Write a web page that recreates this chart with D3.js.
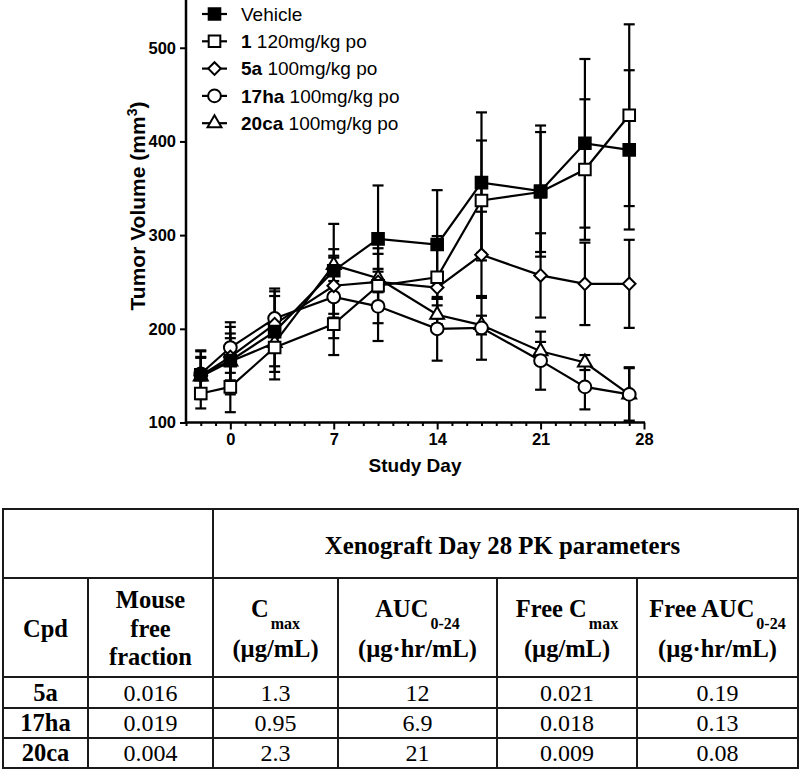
<!DOCTYPE html>
<html>
<head>
<meta charset="utf-8">
<script src="https://cdn.jsdelivr.net/npm/d3@7"></script>
<style>
  html, body { margin: 0; padding: 0; background: #fff; }
  svg { display: block; }
</style>
</head>
<body>
<svg id="chart" width="800" height="770"></svg>
<script>
// ---------------- DATA ----------------
const studyDays = [-2, 0, 3, 7, 10, 14, 17, 21, 24, 27];

const vehicleMean = [151, 166, 197, 262, 296, 290, 356, 347, 398, 391];
const vehicleErr  = [26, 36, 43, 50, 57, 58, 75, 70, 90, 85];

const cpd1Mean = [131, 138, 180, 205, 246, 255, 337, 346, 370, 428];
const cpd1Err  = [16, 27, 34, 33, 40, 44, 64, 64, 75, 97];

const cpd5aMean = [150, 170, 205, 246, 250, 244, 279, 257, 248, 248];
const cpd5aErr  = [20, 25, 30, 30, 30, 12, 46, 45, 44, 47];

const cpd17haMean = [152, 180, 211, 234, 224, 200, 201, 166, 138, 130];
const cpd17haErr  = [24, 27, 32, 44, 37, 34, 34, 31, 24, 28];

const cpd20caMean = [149, 165, 185, 268, 254, 215, 204, 176, 164, 130];
const cpd20caErr  = [20, 25, 25, 17, 10, 10, 10, 10, 8, 29];

const legendBold = ["", "1", "5a", "17ha", "20ca"];
const legendRest = ["Vehicle", " 120mg/kg po", " 100mg/kg po", " 100mg/kg po", " 100mg/kg po"];

const xTickValues = [0, 7, 14, 21, 28];
const yTickValues = [100, 200, 300, 400, 500];

// table data
const tableCpd = ["5a", "17ha", "20ca"];
const tableFreeFraction = ["0.016", "0.019", "0.004"];
const tableCmax = ["1.3", "0.95", "2.3"];
const tableAuc = ["12", "6.9", "21"];
const tableFreeCmax = ["0.021", "0.018", "0.009"];
const tableFreeAuc = ["0.19", "0.13", "0.08"];

// ---------------- CHART ----------------
const svg = d3.select("#chart");
const FONT = "'Liberation Sans', Arial, Helvetica, sans-serif";
const SERIF = "'Liberation Serif', 'Times New Roman', serif";

const x = d3.scaleLinear().domain([-3, 28]).range([186, 644]);
const y = d3.scaleLinear().domain([100, 550]).range([422.5, 0.9]);

const seriesList = [
  { mean: vehicleMean, err: vehicleErr, shape: "square", filled: true },
  { mean: cpd1Mean, err: cpd1Err, shape: "square", filled: false },
  { mean: cpd5aMean, err: cpd5aErr, shape: "diamond", filled: false },
  { mean: cpd17haMean, err: cpd17haErr, shape: "circle", filled: false },
  { mean: cpd20caMean, err: cpd20caErr, shape: "triangle", filled: false }
];

function symbolPath(shape) {
  if (shape === "square") return d3.symbol().type(d3.symbolSquare).size(135)();
  if (shape === "diamond") return d3.symbol().type(d3.symbolSquare).size(80)();
  if (shape === "circle") return d3.symbol().type(d3.symbolCircle).size(128)();
  return d3.symbol().type(d3.symbolTriangle).size(84)();
}

// axes
const xAxisG = svg.append("g").attr("transform", `translate(0,${y(100)})`);
xAxisG.call(d3.axisBottom(x).tickValues(xTickValues).tickSize(7).tickSizeOuter(0).tickPadding(4));
const minorG = svg.append("g").attr("transform", `translate(0,${y(100)})`);
minorG.call(d3.axisBottom(x).tickValues(d3.range(-3, 29).filter(d => d % 7 !== 0)).tickSize(3.5).tickSizeOuter(0).tickFormat(""));
minorG.select(".domain").remove();

const yAxisG = svg.append("g").attr("transform", `translate(${x(-3)},0)`);
yAxisG.call(d3.axisLeft(y).tickValues(yTickValues).tickSize(6).tickSizeOuter(0).tickPadding(4));

[xAxisG, yAxisG, minorG].forEach(g => {
  g.selectAll("path.domain").attr("stroke", "#000").attr("stroke-width", 2.5);
  g.selectAll(".tick line").attr("stroke", "#000").attr("stroke-width", 2);
  g.selectAll(".tick text").attr("fill", "#000").style("font-family", FONT)
    .style("font-weight", "bold").style("font-size", "16.5px");
});
xAxisG.select("path.domain").attr("d", `M${x(-3) - 1.2},0H${x(28) + 1}`);
yAxisG.select("path.domain").attr("d", `M0,${y(100) + 1.2}V0`);

// axis titles
svg.append("text")
  .attr("x", x(12.5)).attr("y", 472)
  .attr("text-anchor", "middle")
  .style("font-family", FONT).style("font-weight", "bold").style("font-size", "19px")
  .text("Study Day");

const yTitle = svg.append("text")
  .attr("transform", `translate(145,206) rotate(-90)`)
  .attr("text-anchor", "middle")
  .style("font-family", FONT).style("font-weight", "bold").style("font-size", "21px");
yTitle.append("tspan").text("Tumor Volume (mm");
yTitle.append("tspan").attr("dy", -8).style("font-size", "14px").text("3");
yTitle.append("tspan").attr("dy", 8).text(")");

// error bars + lines
const plotG = svg.append("g");
const capHalf = 5.5;
seriesList.forEach(s => {
  const g = plotG.append("g");
  studyDays.forEach((d, i) => {
    const cx = x(d);
    const top = y(s.mean[i] + s.err[i]);
    const bot = y(s.mean[i] - s.err[i]);
    g.append("line").attr("x1", cx).attr("x2", cx).attr("y1", top).attr("y2", bot)
      .attr("stroke", "#000").attr("stroke-width", 2.2);
    g.append("line").attr("x1", cx - capHalf).attr("x2", cx + capHalf).attr("y1", top).attr("y2", top)
      .attr("stroke", "#000").attr("stroke-width", 2.2);
    g.append("line").attr("x1", cx - capHalf).attr("x2", cx + capHalf).attr("y1", bot).attr("y2", bot)
      .attr("stroke", "#000").attr("stroke-width", 2.2);
  });
});
const line = d3.line().x(d => x(d[0])).y(d => y(d[1]));
seriesList.forEach(s => {
  plotG.append("path")
    .attr("d", line(studyDays.map((d, i) => [d, s.mean[i]])))
    .attr("fill", "none").attr("stroke", "#000").attr("stroke-width", 2.2);
});
// markers (draw last series first so Vehicle sits on top)
seriesList.slice().reverse().forEach(s => {
  const p = symbolPath(s.shape);
  studyDays.forEach((d, i) => {
    plotG.append("path").attr("d", p)
      .attr("transform", `translate(${x(d)},${y(s.mean[i])})` + (s.shape === "diamond" ? " rotate(45)" : ""))
      .attr("fill", s.filled ? "#000" : "#fff")
      .attr("stroke", "#000").attr("stroke-width", 2);
  });
});

// legend
const legendG = svg.append("g");
seriesList.forEach((s, i) => {
  const ly = 14 + i * 27.3;
  legendG.append("line").attr("x1", 202).attr("x2", 227).attr("y1", ly).attr("y2", ly)
    .attr("stroke", "#000").attr("stroke-width", 2.2);
  legendG.append("path").attr("d", symbolPath(s.shape))
    .attr("transform", `translate(214.5,${ly})` + (s.shape === "diamond" ? " rotate(45)" : ""))
    .attr("fill", s.filled ? "#000" : "#fff").attr("stroke", "#000").attr("stroke-width", 2);
  const t = legendG.append("text").attr("x", 241).attr("y", ly + 6.8)
    .style("font-family", FONT).style("font-size", "19px");
  if (legendBold[i]) t.append("tspan").style("font-weight", "bold").text(legendBold[i]);
  t.append("tspan").text(legendRest[i]);
});

// ---------------- TABLE ----------------
const colX = [3, 88, 213, 338, 497, 637, 798];
const rowY = [509, 578, 677, 708, 738, 768];
const tbl = svg.append("g");
const lineColor = "#1a1a1a";
function hl(x1, x2, yy) { tbl.append("line").attr("x1", x1).attr("x2", x2).attr("y1", yy).attr("y2", yy).attr("stroke", lineColor).attr("stroke-width", 2); }
function vl(xx, y1, y2) { tbl.append("line").attr("x1", xx).attr("x2", xx).attr("y1", y1).attr("y2", y2).attr("stroke", lineColor).attr("stroke-width", 2); }
rowY.forEach(yy => hl(colX[0] - 1, colX[6] + 1, yy));
vl(colX[0], rowY[0], rowY[5]);
vl(colX[6], rowY[0], rowY[5]);
vl(colX[2], rowY[0], rowY[5]);
[1, 3, 4, 5].forEach(c => vl(colX[c], rowY[1], rowY[5]));

const colC = d3.range(6).map(c => (colX[c] + colX[c + 1]) / 2);
function txt(xx, yy, str, bold, size) {
  return tbl.append("text").attr("x", xx).attr("y", yy).attr("text-anchor", "middle")
    .style("font-family", SERIF).style("font-weight", bold ? "bold" : "normal")
    .style("font-size", (size || 24) + "px").text(str);
}
txt((colX[2] + colX[6]) / 2 - 3, 554, "Xenograft Day 28 PK parameters", true, 24.8);
txt(colC[0], 637, "Cpd", true, 24.5);
txt(colC[1], 608, "Mouse", true, 24.5);
txt(colC[1], 637, "free", true, 24.5);
txt(colC[1], 665, "fraction", true, 24.5);

function subHeader(cx, main, sub, unit) {
  const t = tbl.append("text").attr("x", cx).attr("y", 617).attr("text-anchor", "middle")
    .style("font-family", SERIF).style("font-weight", "bold").style("font-size", "24.5px");
  t.append("tspan").text(main);
  t.append("tspan").attr("dy", 12).attr("dx", 2).style("font-size", "16px").text(sub);
  txt(cx, 657, unit, true, 24.5);
}
subHeader(colC[2], "C", "max", "(µg/mL)");
subHeader(colC[3], "AUC", "0-24", "(µg·hr/mL)");
subHeader(colC[4], "Free C", "max", "(µg/mL)");
subHeader(colC[5], "Free AUC", "0-24", "(µg·hr/mL)");

const baseY = [701, 731, 761];
tableCpd.forEach((c, i) => {
  txt(colC[0], baseY[i], c, true, 24.5);
  txt(colC[1], baseY[i], tableFreeFraction[i], false);
  txt(colC[2], baseY[i], tableCmax[i], false);
  txt(colC[3], baseY[i], tableAuc[i], false);
  txt(colC[4], baseY[i], tableFreeCmax[i], false);
  txt(colC[5], baseY[i], tableFreeAuc[i], false);
});
</script>
</body>
</html>
